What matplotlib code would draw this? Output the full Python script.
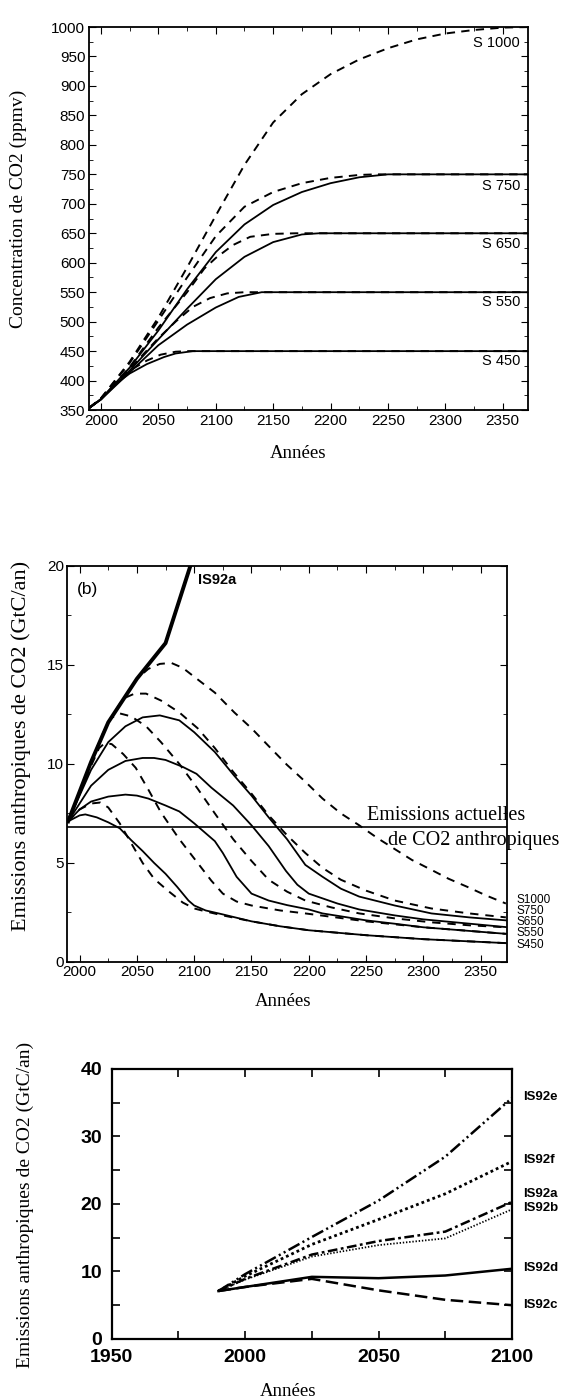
import matplotlib
matplotlib.use('Agg')
import matplotlib.pyplot as plt
from matplotlib.ticker import MultipleLocator

plt.rcParams['lines.scale_dashes'] = False
plt.rcParams['font.family'] = ['Liberation Sans', 'DejaVu Sans']
SERIF = ['Liberation Serif', 'DejaVu Serif']

# ---- panel (a): CO2 concentration, ppmv
s1000_dash_x = [1990, 2000, 2025, 2050, 2075, 2100, 2125, 2150, 2175, 2200, 2225, 2250, 2275, 2300, 2325, 2350, 2372]
s1000_dash_y = [354, 370, 432, 507, 592, 680, 766, 838, 886, 920, 945, 964, 979, 989, 995, 999, 1000]
s750_dash_x = [1990, 2000, 2025, 2050, 2075, 2100, 2125, 2150, 2175, 2200, 2225, 2240, 2372]
s750_dash_y = [354, 370, 430, 502, 575, 645, 695, 720, 735, 744, 749, 750, 750]
s750_sol_x = [1990, 2000, 2025, 2050, 2075, 2100, 2125, 2150, 2175, 2200, 2225, 2250, 2372]
s750_sol_y = [354, 369, 422, 485, 555, 618, 665, 698, 720, 735, 745, 750, 750]
s650_dash_x = [1990, 2000, 2025, 2050, 2075, 2090, 2100, 2115, 2130, 2150, 2170, 2372]
s650_dash_y = [354, 369, 423, 490, 550, 590, 608, 630, 644, 649, 650, 650]
s650_sol_x = [1990, 2000, 2025, 2050, 2075, 2100, 2125, 2150, 2175, 2190, 2372]
s650_sol_y = [354, 368, 417, 470, 522, 572, 610, 635, 648, 650, 650]
s550_dash_x = [1990, 2000, 2025, 2050, 2065, 2080, 2095, 2110, 2125, 2372]
s550_dash_y = [354, 369, 420, 472, 500, 525, 540, 548, 550, 550]
s550_sol_x = [1990, 2000, 2025, 2050, 2075, 2100, 2120, 2140, 2372]
s550_sol_y = [354, 368, 414, 460, 495, 524, 542, 550, 550]
s450_dash_x = [1990, 2000, 2010, 2025, 2040, 2052, 2065, 2075, 2372]
s450_dash_y = [354, 369, 392, 417, 434, 444, 449, 450, 450]
s450_sol_x = [1990, 2000, 2010, 2025, 2040, 2055, 2065, 2080, 2372]
s450_sol_y = [354, 368, 390, 412, 428, 440, 446, 450, 450]
labels_a = ['S 1000', 'S 750', 'S 650', 'S 550', 'S 450']
labels_a_y = [973, 731, 632, 534, 434]

# ---- panel (b): anthropogenic emissions, GtC/yr
is92a_x = [1990, 2000, 2010, 2025, 2050, 2075, 2100]
is92a_y = [7.1, 8.6, 10.1, 12.1, 14.3, 16.1, 20.6]
b1000_dash_x = [1990, 2000, 2010, 2025, 2040, 2050, 2060, 2070, 2080, 2090, 2100, 2118, 2135, 2150, 2165, 2181,
                2197, 2212, 2228, 2244, 2260, 2275, 2290, 2307, 2322, 2338, 2355, 2372]
b1000_dash_y = [7.1, 8.6, 10.1, 12.1, 13.4, 14.3, 14.8, 15.05, 15.1, 14.85, 14.4, 13.6, 12.6, 11.8, 10.9, 9.95,
                9.1, 8.25, 7.5, 6.9, 6.25, 5.7, 5.15, 4.65, 4.2, 3.8, 3.35, 2.95]
b750_dash_x = [1990, 2000, 2010, 2025, 2038, 2048, 2058, 2071, 2087, 2103, 2118, 2134, 2150, 2165, 2181, 2197,
               2212, 2228, 2250, 2275, 2307, 2340, 2372]
b750_dash_y = [7.1, 8.6, 10.1, 12.1, 13.3, 13.55, 13.55, 13.2, 12.6, 11.8, 10.8, 9.6, 8.5, 7.4, 6.4, 5.5,
               4.75, 4.15, 3.6, 3.1, 2.7, 2.45, 2.25]
b750_sol_x = [1990, 2000, 2010, 2025, 2040, 2055, 2070, 2087, 2100, 2118, 2135, 2150, 2165, 2181, 2197, 2212,
              2228, 2244, 2275, 2307, 2340, 2372]
b750_sol_y = [7.1, 8.4, 9.7, 11.1, 11.9, 12.35, 12.45, 12.2, 11.6, 10.6, 9.4, 8.4, 7.3, 6.2, 4.9, 4.3,
              3.7, 3.3, 2.85, 2.45, 2.25, 2.1]
b650_dash_x = [1990, 2000, 2010, 2020, 2027, 2035, 2045, 2058, 2071, 2087, 2103, 2118, 2134, 2150, 2165, 2181,
               2197, 2220, 2244, 2275, 2307, 2340, 2372]
b650_dash_y = [7.1, 8.6, 10.1, 11.5, 12.3, 12.55, 12.4, 11.9, 11.1, 10.0, 8.75, 7.5, 6.2, 5.1, 4.15, 3.55,
               3.1, 2.75, 2.45, 2.2, 2.0, 1.85, 1.75]
b650_sol_x = [1990, 2000, 2010, 2025, 2040, 2055, 2065, 2075, 2090, 2102, 2115, 2134, 2150, 2165, 2180, 2190,
              2200, 2225, 2244, 2275, 2300, 2372]
b650_sol_y = [7.1, 8.0, 8.9, 9.7, 10.15, 10.3, 10.3, 10.2, 9.85, 9.5, 8.8, 7.9, 6.9, 5.85, 4.6, 3.9,
              3.45, 2.95, 2.65, 2.35, 2.15, 1.76]
b550_dash_x = [1990, 2000, 2010, 2017, 2022, 2028, 2038, 2049, 2060, 2071, 2087, 2103, 2115, 2125, 2137, 2150,
               2175, 2197, 2250, 2300, 2372]
b550_dash_y = [7.1, 8.5, 9.9, 10.8, 11.05, 11.0, 10.5, 9.8, 8.7, 7.55, 6.2, 5.0, 4.1, 3.45, 3.05, 2.85,
               2.6, 2.45, 2.05, 1.75, 1.42]
b550_sol_x = [1990, 2000, 2010, 2025, 2040, 2050, 2060, 2075, 2087, 2100, 2110, 2118, 2125, 2137, 2150, 2165,
              2181, 2200, 2212, 2250, 2275, 2300, 2372]
b550_sol_y = [7.1, 7.7, 8.1, 8.35, 8.45, 8.4, 8.25, 7.9, 7.6, 7.0, 6.5, 6.1, 5.5, 4.3, 3.45, 3.1,
              2.87, 2.65, 2.45, 2.1, 1.93, 1.75, 1.42]
b450_dash_x = [1990, 2000, 2010, 2018, 2025, 2035, 2045, 2055, 2065, 2077, 2090, 2100, 2110, 2125, 2150, 2175,
               2200, 2250, 2300, 2372]
b450_dash_y = [7.1, 7.7, 8.0, 8.05, 7.8, 7.0, 6.0, 5.0, 4.2, 3.6, 3.0, 2.7, 2.55, 2.35, 2.05, 1.8,
               1.6, 1.35, 1.15, 0.95]
b450_sol_x = [1990, 2000, 2005, 2015, 2025, 2035, 2045, 2055, 2065, 2075, 2085, 2095, 2100, 2110, 2125, 2150,
              2175, 2200, 2250, 2300, 2372]
b450_sol_y = [7.1, 7.4, 7.45, 7.3, 7.05, 6.75, 6.15, 5.6, 5.0, 4.45, 3.8, 3.1, 2.85, 2.6, 2.4, 2.05,
              1.8, 1.6, 1.35, 1.15, 0.95]
current_emissions = 6.8
labels_b = ['S1000', 'S750', 'S650', 'S550', 'S450']
labels_b_y = [3.15, 2.58, 2.01, 1.44, 0.87]

# ---- panel (c): IS92 scenarios
years_c = [1990, 2000, 2025, 2050, 2075, 2100]
is92e = [7.1, 9.6, 15.1, 20.5, 27.0, 35.7]
is92f = [7.1, 9.3, 14.0, 17.7, 21.5, 26.3]
is92a_c = [7.1, 8.9, 12.5, 14.5, 15.9, 20.3]
is92b = [7.1, 8.8, 12.2, 13.9, 14.9, 19.2]
is92d = [7.1, 7.7, 9.2, 9.0, 9.4, 10.4]
is92c = [7.1, 7.7, 8.9, 7.2, 5.8, 5.0]
labels_c = ['IS92e', 'IS92f', 'IS92a', 'IS92b', 'IS92d', 'IS92c']
labels_c_y = [35.9, 26.5, 21.4, 19.4, 10.5, 5.0]

fig = plt.figure(figsize=(5.65, 14), dpi=100)

# ================= panel (a)
ax1 = fig.add_axes([0.1584, 0.7071, 0.7761, 0.2736])
dash_a = (0, (6, 4.5))
ax1.plot(s1000_dash_x, s1000_dash_y, 'k', ls=dash_a, lw=1.4)
ax1.plot(s750_dash_x, s750_dash_y, 'k', ls=dash_a, lw=1.4)
ax1.plot(s750_sol_x, s750_sol_y, 'k', lw=1.3)
ax1.plot(s650_dash_x, s650_dash_y, 'k', ls=dash_a, lw=1.4)
ax1.plot(s650_sol_x, s650_sol_y, 'k', lw=1.3)
ax1.plot(s550_dash_x, s550_dash_y, 'k', ls=dash_a, lw=1.4)
ax1.plot(s550_sol_x, s550_sol_y, 'k', lw=1.3)
ax1.plot(s450_dash_x, s450_dash_y, 'k', ls=dash_a, lw=1.4)
ax1.plot(s450_sol_x, s450_sol_y, 'k', lw=1.3)
for lab, yy in zip(labels_a, labels_a_y):
    ax1.text(2365, yy, lab, ha='right', va='center', fontsize=10.5)
ax1.set_xlim(1990, 2372)
ax1.set_ylim(350, 1000)
ax1.xaxis.set_major_locator(MultipleLocator(50))
ax1.xaxis.set_minor_locator(MultipleLocator(25))
ax1.yaxis.set_major_locator(MultipleLocator(50))
ax1.yaxis.set_minor_locator(MultipleLocator(25))
ax1.tick_params(which='both', direction='in', top=True, right=True, labelsize=11, pad=3)
ax1.tick_params(which='major', length=5)
ax1.tick_params(which='minor', length=3)
for sp in ax1.spines.values():
    sp.set_linewidth(1.3)
fig.text(0.0331, 0.8507, 'Concentration de CO2 (ppmv)', rotation=90, ha='center', va='center',
         fontsize=14, family=SERIF)
fig.text(0.5274, 0.6764, 'Années', ha='center', va='center', fontsize=13.5, family=SERIF)

# ================= panel (b)
ax2 = fig.add_axes([0.1186, 0.3129, 0.7788, 0.2829])
dash_b = (0, (6, 5))
ax2.axhline(current_emissions, color='k', lw=1.2)
ax2.plot(b1000_dash_x, b1000_dash_y, 'k', ls=dash_b, lw=1.4)
ax2.plot(b750_dash_x, b750_dash_y, 'k', ls=dash_b, lw=1.4)
ax2.plot(b650_dash_x, b650_dash_y, 'k', ls=dash_b, lw=1.4)
ax2.plot(b550_dash_x, b550_dash_y, 'k', ls=dash_b, lw=1.4)
ax2.plot(b450_dash_x, b450_dash_y, 'k', ls=dash_b, lw=1.4)
ax2.plot(b750_sol_x, b750_sol_y, 'k', lw=1.3)
ax2.plot(b650_sol_x, b650_sol_y, 'k', lw=1.3)
ax2.plot(b550_sol_x, b550_sol_y, 'k', lw=1.3)
ax2.plot(b450_sol_x, b450_sol_y, 'k', lw=1.3)
ax2.plot(is92a_x, is92a_y, 'k', lw=2.8)
ax2.text(2103.3, 19.3, 'IS92a', ha='left', va='center', fontsize=10.5, fontweight='bold')
ax2.text(2006.5, 18.8, '(b)', ha='center', va='center', fontsize=12.5)
ax2.text(2250.5, 7.39, 'Emissions actuelles', ha='left', va='center', fontsize=14.5, family=SERIF)
ax2.text(2268.8, 6.11, 'de CO2 anthropiques', ha='left', va='center', fontsize=14.5, family=SERIF)
for lab, yy in zip(labels_b, labels_b_y):
    ax2.text(2381.5, yy, lab, ha='left', va='center', fontsize=8.5)
ax2.set_xlim(1989, 2373)
ax2.set_ylim(0, 20)
ax2.xaxis.set_major_locator(MultipleLocator(50))
ax2.xaxis.set_minor_locator(MultipleLocator(25))
ax2.yaxis.set_major_locator(MultipleLocator(5))
ax2.yaxis.set_minor_locator(MultipleLocator(2.5))
ax2.tick_params(which='both', direction='in', top=True, right=True, labelsize=11, pad=2)
ax2.tick_params(which='major', length=5)
ax2.tick_params(which='minor', length=3)
for sp in ax2.spines.values():
    sp.set_linewidth(1.3)
fig.text(0.0377, 0.4671, 'Emissions anthropiques de CO2 (GtC/an)', rotation=90, ha='center',
         va='center', fontsize=16, family=SERIF)
fig.text(0.5009, 0.2843, 'Années', ha='center', va='center', fontsize=13.5, family=SERIF)

# ================= panel (c)
ax3 = fig.add_axes([0.1977, 0.0436, 0.7085, 0.1929])
ax3.plot(years_c, is92e, 'k', lw=1.8, ls=(0, (9, 2.5, 1.5, 2.5, 1.5, 2.5)))
ax3.plot(years_c, is92f, 'k', lw=2.0, ls=(0, (2, 2.2)))
ax3.plot(years_c, is92a_c, 'k', lw=1.8, ls=(0, (7, 2.5, 2, 2.5)))
ax3.plot(years_c, is92b, 'k', lw=1.3, ls=(0, (1, 1.3)))
ax3.plot(years_c, is92d, 'k', lw=1.8)
ax3.plot(years_c, is92c, 'k', lw=1.8, ls=(0, (9, 4)))
for lab, yy in zip(labels_c, labels_c_y):
    ax3.text(2104.2, yy, lab, ha='left', va='center', fontsize=9.5, fontweight='bold')
ax3.set_xlim(1950, 2100)
ax3.set_ylim(0, 40)
ax3.xaxis.set_major_locator(MultipleLocator(50))
ax3.xaxis.set_minor_locator(MultipleLocator(25))
ax3.yaxis.set_major_locator(MultipleLocator(10))
ax3.yaxis.set_minor_locator(MultipleLocator(5))
ax3.tick_params(which='both', direction='in', top=True, right=True, length=6, width=1.2)
ax3.tick_params(axis='x', labelsize=14, pad=7)
ax3.tick_params(axis='y', labelsize=14, pad=7)
for lab in ax3.get_xticklabels() + ax3.get_yticklabels():
    lab.set_fontweight('bold')
for sp in ax3.spines.values():
    sp.set_linewidth(1.6)
fig.text(0.0442, 0.1393, 'Emissions anthropiques de CO2 (GtC/an)', rotation=90, ha='center',
         va='center', fontsize=14, family=SERIF)
fig.text(0.5097, 0.006, 'Années', ha='center', va='center', fontsize=13.5, family=SERIF)

fig.savefig('out.png', dpi=100)
